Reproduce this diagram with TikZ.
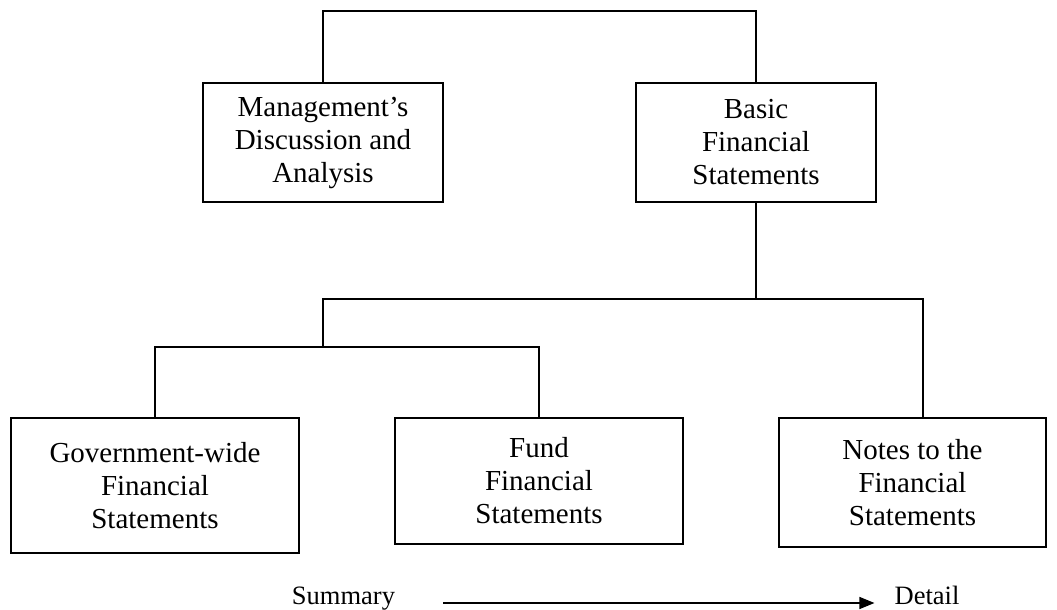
\documentclass[tikz,border=0pt]{standalone}
\usepackage{fontspec}
\setmainfont{Liberation Serif}
\usetikzlibrary{arrows.meta}

\begin{document}
\begin{tikzpicture}[x=1pt, y=1pt,
        part/.style={draw, line width=1.8pt, align=center, inner sep=0pt,
            font=\fontsize{29}{33}\selectfont},
        link/.style={line width=1.5pt},
        scale label/.style={inner sep=0pt, anchor=base,
            font=\fontsize{26.5}{30}\selectfont}]
                \useasboundingbox (0,0) rectangle (1057,610);

                \node[part, minimum width=240pt, minimum height=119pt] (mda) at (323,467.5)
                    {Management's\\Discussion and\\Analysis};
                \node[part, minimum width=240pt, minimum height=119pt] (bfs) at (756,467.5)
                    {Basic\\Financial\\Statements};
                \node[part, minimum width=288pt, minimum height=135pt] (gov) at (155,124.5)
                    {Government-wide\\Financial\\Statements};
                \node[part, minimum width=288pt, minimum height=126pt] (fund) at (539,129)
                    {Fund\\Financial\\Statements};
                \node[part, minimum width=267pt, minimum height=129pt] (notes) at (912.5,127.5)
                    {Notes to the\\Financial\\Statements};

                \coordinate (top) at (540,599);
                \coordinate (bus) at (756,311);
                \coordinate (nj) at (923,311);
                \coordinate (subbus) at (323,263);

                \draw[link] (mda.north) |- (top) -| (bfs.north);
                \draw[link] (bfs.south) -- (bus);
                \draw[link] (subbus) |- (nj) -- (nj |- notes.north);
                \draw[link] (gov.north) |- (subbus) -| (fund.north);

                \node[scale label] (summary) at (343.5,5) {Summary};
                \node[scale label] (detail) at (927,5) {Detail};
                \draw[line width=1.5pt, -{Triangle[length=15pt, width=12pt]}]
                    ([xshift=48pt, yshift=2pt]summary.base east) -- ([xshift=-20pt, yshift=2pt]detail.base west);
            \end{tikzpicture}
\end{document}
